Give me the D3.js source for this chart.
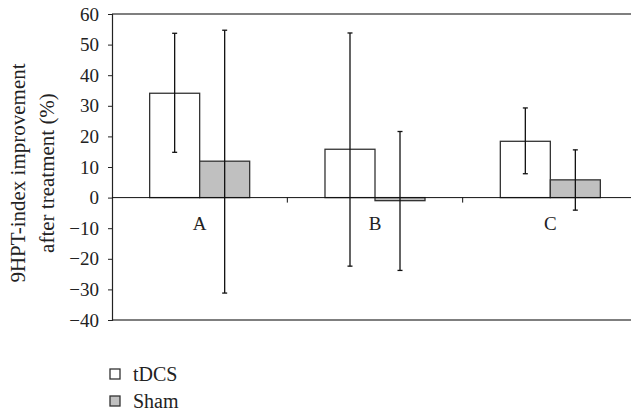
<!DOCTYPE html>
<html>
<head>
<meta charset="utf-8">
<script src="https://cdn.jsdelivr.net/npm/d3@7"></script>
<style>
  body { margin: 0; background: #fff; }
  svg text { font-family: "Liberation Serif", "Times New Roman", "DejaVu Serif", serif; }
</style>
</head>
<body>
<div id="chart"></div>
<script>
const categories = ['A', 'B', 'C'];
const seriesNames = ['tDCS', 'Sham'];
const tdcsValues = [34.1, 15.8, 18.4];
const shamValues = [11.9, -1.0, 5.8];
const tdcsUpper = [53.7, 53.8, 29.3];
const tdcsLower = [14.8, -22.4, 7.8];
const shamUpper = [54.7, 21.6, 15.6];
const shamLower = [-31.2, -23.8, -4.1];
const yTicks = [60, 50, 40, 30, 20, 10, 0, -10, -20, -30, -40];

const fills = { tDCS: '#ffffff', Sham: '#c0c0c0' };
const serif = 'Liberation Serif, Times New Roman, DejaVu Serif, serif';

const rows = [];
categories.forEach((c, i) => {
  rows.push({ cat: c, series: 'tDCS', value: tdcsValues[i], hi: tdcsUpper[i], lo: tdcsLower[i] });
  rows.push({ cat: c, series: 'Sham', value: shamValues[i], hi: shamUpper[i], lo: shamLower[i] });
});

function createChart() {
  const width = 631;
  const height = 413;
  const margin = { top: 14, right: -7, bottom: 93, left: 112 };

  const svg = d3.select('#chart')
    .append('svg')
    .attr('width', width)
    .attr('height', height)
    .attr('font-family', serif);

  const x0 = d3.scaleBand()
    .domain(categories)
    .range([margin.left, width - margin.right]);

  const x1 = d3.scaleBand()
    .domain(seriesNames)
    .range([0, x0.bandwidth()])
    .paddingOuter(0.753);

  const y = d3.scaleLinear()
    .domain([-40, 60])
    .range([height - margin.bottom, margin.top]);

  // frame top/bottom
  svg.append('line')
    .attr('x1', margin.left).attr('x2', width)
    .attr('y1', y(60)).attr('y2', y(60))
    .attr('stroke', '#555').attr('stroke-width', 1.5);
  svg.append('line')
    .attr('x1', margin.left).attr('x2', width)
    .attr('y1', y(-40)).attr('y2', y(-40))
    .attr('stroke', '#555').attr('stroke-width', 1.5);

  // left axis
  const yAxis = d3.axisLeft(y)
    .tickValues(yTicks)
    .tickSize(4)
    .tickPadding(9)
    .tickFormat((d) => (d < 0 ? '\u2212' + Math.abs(d) : String(d)));

  const gy = svg.append('g')
    .attr('transform', `translate(${margin.left}, 0)`)
    .call(yAxis)
    .attr('font-family', serif)
    .attr('font-size', 19);
  gy.select('.domain').attr('stroke', '#222').attr('stroke-width', 1.2);
  gy.selectAll('.tick line').attr('stroke', '#222');
  gy.selectAll('.tick text').attr('fill', '#222');

  // bars
  svg.append('g')
    .selectAll('rect')
    .data(rows)
    .join('rect')
    .attr('x', (d) => x0(d.cat) + x1(d.series))
    .attr('width', x1.bandwidth())
    .attr('y', (d) => y(Math.max(0, d.value)))
    .attr('height', (d) => Math.abs(y(d.value) - y(0)))
    .attr('fill', (d) => fills[d.series])
    .attr('stroke', '#333')
    .attr('stroke-width', 1.3);

  // zero line with category ticks
  svg.append('line')
    .attr('x1', margin.left).attr('x2', width)
    .attr('y1', y(0)).attr('y2', y(0))
    .attr('stroke', '#111').attr('stroke-width', 1);

  svg.append('g')
    .selectAll('line')
    .data(categories.slice(1))
    .join('line')
    .attr('x1', (d) => x0(d)).attr('x2', (d) => x0(d))
    .attr('y1', y(0)).attr('y2', y(0) + 5)
    .attr('stroke', '#111');

  // error bars
  const eb = svg.append('g').attr('stroke', '#111').attr('stroke-width', 1.3);
  const cx = (d) => x0(d.cat) + x1(d.series) + x1.bandwidth() / 2;
  eb.selectAll('line.stem')
    .data(rows)
    .join('line')
    .attr('class', 'stem')
    .attr('x1', cx).attr('x2', cx)
    .attr('y1', (d) => y(d.hi)).attr('y2', (d) => y(d.lo));
  eb.selectAll('line.cap-hi')
    .data(rows)
    .join('line')
    .attr('class', 'cap-hi')
    .attr('x1', (d) => cx(d) - 2.5).attr('x2', (d) => cx(d) + 2.5)
    .attr('y1', (d) => y(d.hi)).attr('y2', (d) => y(d.hi));
  eb.selectAll('line.cap-lo')
    .data(rows)
    .join('line')
    .attr('class', 'cap-lo')
    .attr('x1', (d) => cx(d) - 2.5).attr('x2', (d) => cx(d) + 2.5)
    .attr('y1', (d) => y(d.lo)).attr('y2', (d) => y(d.lo));

  // category labels
  svg.append('g')
    .selectAll('text')
    .data(categories)
    .join('text')
    .attr('x', (d) => x0(d) + x0.bandwidth() / 2)
    .attr('y', y(0) + 32)
    .attr('text-anchor', 'middle')
    .attr('font-size', 19)
    .attr('fill', '#222')
    .text((d) => d);

  // y title
  const title = svg.append('text')
    .attr('transform', 'translate(0, 173) rotate(-90)')
    .attr('text-anchor', 'middle')
    .attr('font-size', 21)
    .attr('fill', '#222');
  title.append('tspan').attr('x', 0).attr('y', 25).text('9HPT-index improvement');
  title.append('tspan').attr('x', 0).attr('y', 54).text('after treatment (%)');

  // legend
  const legend = svg.append('g')
    .selectAll('g')
    .data(seriesNames)
    .join('g')
    .attr('transform', (d, i) => `translate(110, ${369 + i * 27})`);
  legend.append('rect')
    .attr('width', 10).attr('height', 10)
    .attr('fill', (d) => fills[d])
    .attr('stroke', '#333')
    .attr('stroke-width', 1.3);
  legend.append('text')
    .attr('x', 23).attr('y', 12)
    .attr('font-size', 20)
    .attr('fill', '#222')
    .text((d) => d);
}

createChart();
</script>
</body>
</html>
